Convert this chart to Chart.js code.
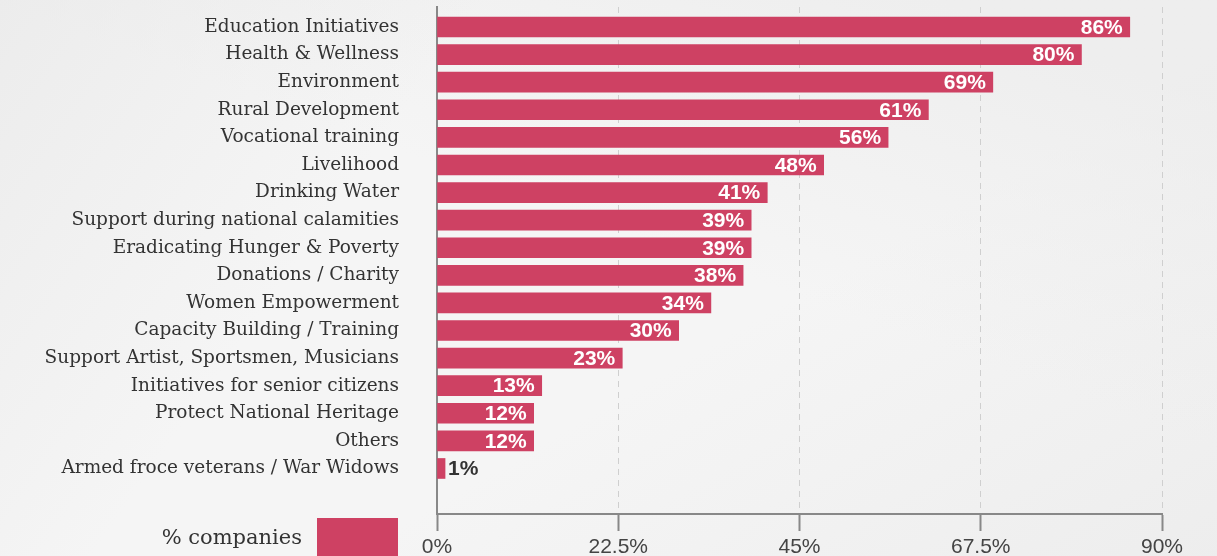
<!DOCTYPE html>
<html>
<head>
<meta charset="utf-8">
<title>CSR focus areas</title>
<script src="https://cdn.jsdelivr.net/npm/chart.js@4.4.1/dist/chart.umd.min.js"></script>
<style>
  html, body { margin: 0; padding: 0; }
  body {
    width: 1217px;
    height: 556px;
    overflow: hidden;
    background:
      linear-gradient(125deg, rgba(230,230,230,0.6) 0%, rgba(255,255,255,0) 30%),
      linear-gradient(200deg, rgba(235,235,235,0.7) 10%, rgba(250,250,250,0) 45%),
      linear-gradient(330deg, rgba(232,232,232,0.6) 0%, rgba(250,250,250,0) 40%),
      #f5f5f5;
  }
  #wrap { position: relative; width: 1217px; height: 556px; }
</style>
</head>
<body>
<div id="wrap">
  <canvas id="csrChart" width="1217" height="556"></canvas>
</div>
<script>
// Categories, top to bottom
const categories = [
  "Education Initiatives",
  "Health & Wellness",
  "Environment",
  "Rural Development",
  "Vocational training",
  "Livelihood",
  "Drinking Water",
  "Support during national calamities",
  "Eradicating Hunger & Poverty",
  "Donations / Charity",
  "Women Empowerment",
  "Capacity Building / Training",
  "Support Artist, Sportsmen, Musicians",
  "Initiatives for senior citizens",
  "Protect National Heritage",
  "Others",
  "Armed froce veterans / War Widows"
];

// % companies
const companyShare = [86, 80, 69, 61, 56, 48, 41, 39, 39, 38, 34, 30, 23, 13, 12, 12, 1];

// x axis ticks
const xTicks = [0, 22.5, 45, 67.5, 90];

const seriesLabel = "% companies";
const barColor = "#ce4163";
const serifFont = "'DejaVu Serif', 'Liberation Serif', serif";
const sansFont = "'Liberation Sans', Arial, sans-serif";

// Values written at the end of each bar
const valueLabels = {
  id: "valueLabels",
  afterDatasetsDraw(chart) {
    const ctx = chart.ctx;
    const meta = chart.getDatasetMeta(0);
    ctx.save();
    ctx.font = "bold 21px " + sansFont;
    ctx.textBaseline = "middle";
    meta.data.forEach((bar, i) => {
      const text = companyShare[i] + "%";
      const width = bar.x - bar.base;
      if (width > 50) {
        ctx.fillStyle = "#ffffff";
        ctx.textAlign = "right";
        ctx.fillText(text, bar.x - 7, bar.y + 1);
      } else {
        ctx.fillStyle = "#333333";
        ctx.textAlign = "left";
        ctx.fillText(text, bar.x + 3, bar.y + 1);
      }
    });
    ctx.restore();
  }
};

// Legend at bottom left: text then colour box
const bottomLegend = {
  id: "bottomLegend",
  afterDraw(chart) {
    const ctx = chart.ctx;
    ctx.save();
    ctx.font = "21px " + serifFont;
    ctx.fillStyle = "#333333";
    ctx.textAlign = "right";
    ctx.textBaseline = "alphabetic";
    ctx.fillText(seriesLabel, 302, 544);
    ctx.fillStyle = chart.data.datasets[0].backgroundColor;
    ctx.fillRect(317, 518, 81, 40);
    ctx.restore();
  }
};

const ctx = document.getElementById("csrChart").getContext("2d");
new Chart(ctx, {
  type: "bar",
  data: {
    datasets: [
      {
        label: seriesLabel,
        data: companyShare.map((v, i) => ({ x: v, y: i })),
        backgroundColor: barColor,
        borderWidth: 0,
        barThickness: 20,
      },
    ],
  },
  options: {
    indexAxis: "y",
    responsive: false,
    animation: false,
    layout: { padding: { top: 7, right: 55, left: 0, bottom: 0 } },
    plugins: {
      legend: { display: false },
      tooltip: { enabled: false },
    },
    scales: {
      x: {
        type: "linear",
        min: 0,
        max: 90,
        afterBuildTicks: (scale) => {
          scale.ticks = xTicks.map((v) => ({ value: v }));
        },
        afterFit: (scale) => {
          scale.height = 42;
        },
        grid: {
          color: "#cfcfcf",
          lineWidth: 1,
          drawTicks: true,
          tickLength: 17,
          tickColor: "#888888",
          tickWidth: 2,
          tickBorderDash: [],
        },
        border: {
          display: true,
          color: "#888888",
          width: 2,
          dash: [6, 5],
        },
        ticks: {
          padding: 4,
          color: "#444444",
          font: { family: sansFont, size: 21 },
          maxRotation: 0,
          callback: (v) => v + "%",
        },
      },
      y: {
        type: "linear",
        offset: false,
        reverse: true,
        min: -0.725,
        max: 17.65,
        afterBuildTicks: (scale) => {
          scale.ticks = categories.map((_, i) => ({ value: i }));
        },
        afterFit: (scale) => {
          scale.width = 437;
        },
        // invisible tick marks keep the labels away from the axis line
        grid: {
          display: true,
          drawOnChartArea: false,
          drawTicks: true,
          tickLength: 38,
          tickColor: "rgba(0,0,0,0)",
          offset: false,
        },
        border: { display: true, color: "#888888", width: 2 },
        ticks: {
          padding: 0,
          color: "#333333",
          font: { family: serifFont, size: 18.5, lineHeight: 0.7 },
          autoSkip: false,
          callback: (v) => categories[v] || "",
        },
      },
    },
  },
  plugins: [valueLabels, bottomLegend],
});
</script>
</body>
</html>
